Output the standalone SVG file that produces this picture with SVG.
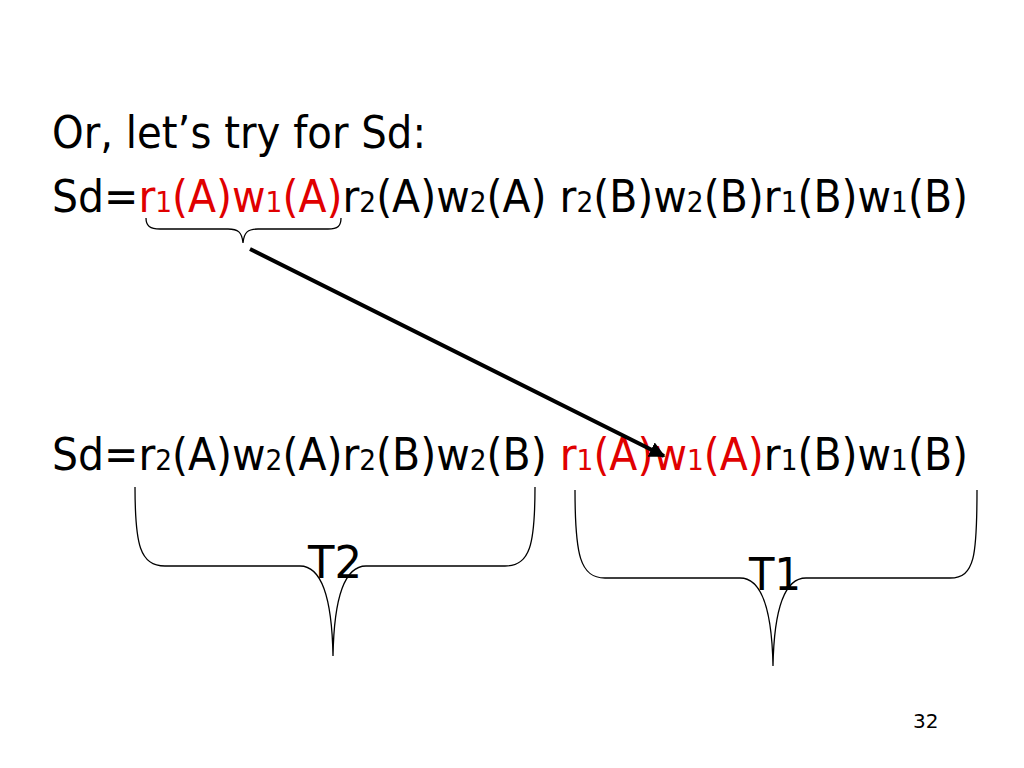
<svg xmlns="http://www.w3.org/2000/svg" width="1024" height="768" viewBox="0 0 1024 768">
<defs>
<style>
text{font-family:"DejaVu Sans","Liberation Sans",sans-serif;font-size:45px;fill:#000}
.s{font-size:29px}
.r{fill:#e00000}
.b{fill:none;stroke:#000;stroke-width:1.3}
</style>
<marker id="ah" viewBox="0 0 10 10" refX="9" refY="5" markerWidth="4" markerHeight="4" orient="auto"><path d="M0,0L10,5L0,10z" fill="#000"/></marker>
</defs>
<rect width="1024" height="768" fill="#fff"/>
<g id="title"><text x="52" y="148" textLength="374" lengthAdjust="spacingAndGlyphs">Or, let’s try for Sd:</text></g>
<g id="line1"><text x="52" y="212" textLength="916" lengthAdjust="spacingAndGlyphs">Sd=<tspan class="r">r<tspan class="s">1</tspan>(A)w<tspan class="s">1</tspan>(A)</tspan>r<tspan class="s">2</tspan>(A)w<tspan class="s">2</tspan>(A) r<tspan class="s">2</tspan>(B)w<tspan class="s">2</tspan>(B)r<tspan class="s">1</tspan>(B)w<tspan class="s">1</tspan>(B)</text></g>
<g id="line2"><text x="52" y="470" textLength="916" lengthAdjust="spacingAndGlyphs">Sd=r<tspan class="s">2</tspan>(A)w<tspan class="s">2</tspan>(A)r<tspan class="s">2</tspan>(B)w<tspan class="s">2</tspan>(B) <tspan class="r">r<tspan class="s">1</tspan>(A)w<tspan class="s">1</tspan>(A)</tspan>r<tspan class="s">1</tspan>(B)w<tspan class="s">1</tspan>(B)</text></g>
<g id="brace-small"><path class="b" d="M146,218 C146,226 150,229 160,229 L228,229 C238,229 242,232 243,243 C244,232 248,229 258,229 L328,229 C338,229 341,226 341,218"/></g>
<g id="brace-t2"><path class="b" d="M135,487 C135,545 140,566 165,566 L300,566 C322,566 332,600 333,656 C334,600 344,566 366,566 L505,566 C530,566 535,545 535,487"/></g>
<g id="brace-t1"><path class="b" d="M575,490 C575,555 580,578 605,578 L740,578 C762,578 772,612 773,666 C774,612 784,578 806,578 L950,578 C975,578 977,555 977,490"/></g>
<g id="labels"><text x="308" y="578" textLength="54" lengthAdjust="spacingAndGlyphs">T2</text><text x="749" y="590" textLength="52" lengthAdjust="spacingAndGlyphs">T1</text><text x="913" y="728" style="font-size:20px">32</text></g>
<g id="connectors"><line x1="250" y1="249" x2="664" y2="456" stroke="#000" stroke-width="4" marker-end="url(#ah)"/></g>
</svg>
